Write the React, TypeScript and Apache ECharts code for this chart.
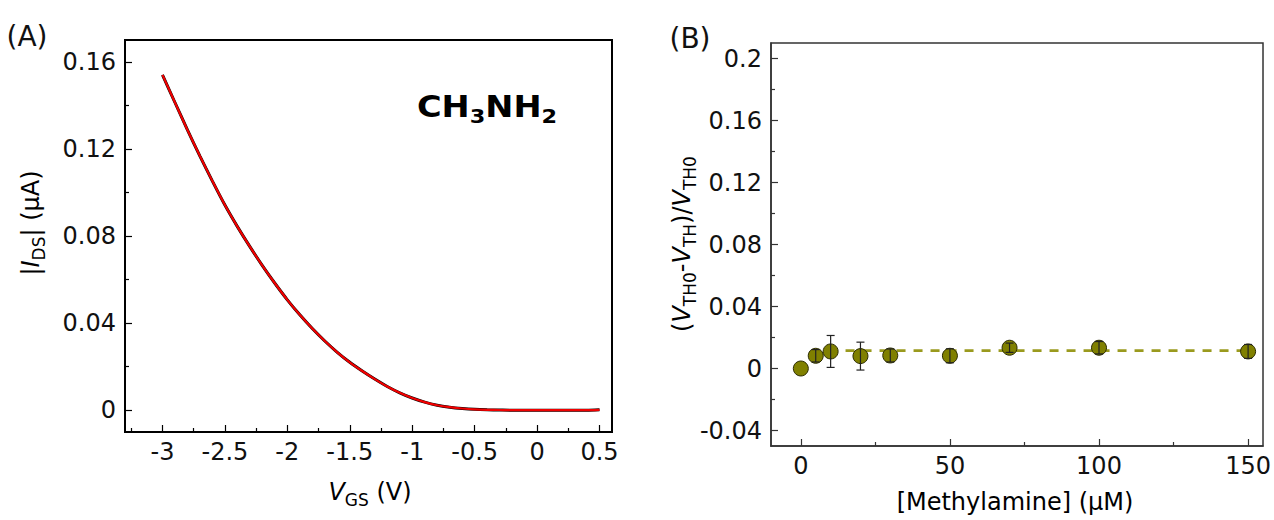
import React, { useEffect, useRef } from 'react';
import * as echarts from 'echarts';

const FONT = 'DejaVu Sans, Liberation Sans, Arial, sans-serif';

// Panel A: transfer curve
const vgs = [-3.0, -2.9, -2.8, -2.7, -2.6, -2.5, -2.4, -2.3, -2.2, -2.1, -2.0, -1.9, -1.8, -1.7, -1.6, -1.5, -1.4, -1.3, -1.2, -1.1, -1.0, -0.9, -0.8, -0.7, -0.6, -0.5, -0.4, -0.3, -0.2, -0.1, 0.0, 0.1, 0.2, 0.3, 0.4, 0.5];
const ids = [0.154, 0.1413, 0.1287, 0.1167, 0.1052, 0.0942, 0.0843, 0.0751, 0.0664, 0.0583, 0.0507, 0.0438, 0.0375, 0.0318, 0.0266, 0.022, 0.018, 0.0143, 0.0109, 0.008, 0.0056, 0.0037, 0.0023, 0.0014, 0.0008, 0.0004, 0.0002, 0.0001, 0, 0, 0, 0, 0, 0, 0, 0.0002];

// Panel B: threshold shift vs concentration
const concentration = [0, 5, 10, 20, 30, 50, 70, 100, 150];
const ratio = [0, 0.0082, 0.011, 0.008, 0.0084, 0.0082, 0.0134, 0.0134, 0.011];
const ratioErr = [0, 0.004, 0.0103, 0.009, 0.0042, 0.0045, 0.003, 0.004, 0.0045];
const fitX = [15, 150];
const fitY = [0.0115, 0.0115];

// ticks
const leftXTicks = [-3, -2.5, -2, -1.5, -1, -0.5, 0, 0.5];
const leftXMinor = [-3.25, -2.75, -2.25, -1.75, -1.25, -0.75, -0.25, 0.25];
const leftYTicks = [0, 0.04, 0.08, 0.12, 0.16];
const leftYMinor = [0.02, 0.06, 0.1, 0.14];
const rightXTicks = [0, 50, 100, 150];
const rightXMinor = [25, 75, 125];
const rightYTicks = [-0.04, 0, 0.04, 0.08, 0.12, 0.16, 0.2];
const rightYMinor = [-0.02, 0.02, 0.06, 0.1, 0.14, 0.18];

const rich = {
  n: { fontSize: 24, fontFamily: FONT, color: '#111', lineHeight: 32 },
  i: { fontSize: 24, fontFamily: FONT, fontStyle: 'italic', color: '#111', lineHeight: 32 },
  s: { fontSize: 17, fontFamily: FONT, color: '#111', verticalAlign: 'bottom' },
};
const richBold = {
  b: { fontSize: 30, fontFamily: FONT, fontWeight: 'bold', color: '#000', lineHeight: 38 },
  bs: { fontSize: 20, fontFamily: FONT, fontWeight: 'bold', color: '#000', verticalAlign: 'bottom' },
};

function mainX(grid: number, min: number, max: number, ticks: number[], color: string, lw: number) {
  return {
    type: 'value', gridIndex: grid, min, max, position: 'bottom',
    axisLine: { show: true, onZero: false, lineStyle: { color, width: lw } },
    axisTick: { show: true, inside: true, length: 7, customValues: ticks, lineStyle: { color, width: 1.2 } },
    axisLabel: { show: true, customValues: ticks, fontSize: 24, fontFamily: FONT, color: '#111', margin: 8 },
    splitLine: { show: false },
  };
}
function minorX(grid: number, min: number, max: number, ticks: number[], color: string) {
  return {
    type: 'value', gridIndex: grid, min, max, position: 'bottom',
    axisLine: { show: false, onZero: false },
    axisTick: { show: true, inside: true, length: 4, customValues: ticks, lineStyle: { color, width: 1.2 } },
    axisLabel: { show: false },
    splitLine: { show: false },
  };
}
function mainY(grid: number, min: number, max: number, ticks: number[], color: string, lw: number) {
  return {
    type: 'value', gridIndex: grid, min, max, position: 'left',
    axisLine: { show: true, onZero: false, lineStyle: { color, width: lw } },
    axisTick: { show: true, inside: true, length: 7, customValues: ticks, lineStyle: { color, width: 1.2 } },
    axisLabel: { show: true, customValues: ticks, fontSize: 24, fontFamily: FONT, color: '#111', margin: 9 },
    splitLine: { show: false },
  };
}
function minorY(grid: number, min: number, max: number, ticks: number[], color: string) {
  return {
    type: 'value', gridIndex: grid, min, max, position: 'left',
    axisLine: { show: false, onZero: false },
    axisTick: { show: true, inside: true, length: 4, customValues: ticks, lineStyle: { color, width: 1.2 } },
    axisLabel: { show: false },
    splitLine: { show: false },
  };
}

export default function App() {
  const ref = useRef<HTMLDivElement>(null);
  useEffect(() => {
    if (!ref.current) return;
    const chart = echarts.init(ref.current, undefined, { renderer: 'svg' });
    const curve = vgs.map((v, k) => [v, ids[k]]);
    const pts = concentration.map((c, k) => [c, ratio[k]]);
    const errs = concentration.map((c, k) => [c, ratio[k] - ratioErr[k], ratio[k] + ratioErr[k]]);
    const fit = fitX.map((x, k) => [x, fitY[k]]);

    chart.setOption({
      animation: false,
      backgroundColor: '#fff',
      grid: [
        { left: 125, top: 40, width: 487, height: 392, show: true, borderColor: '#000', borderWidth: 2, backgroundColor: 'transparent' },
        { left: 771, top: 43, width: 493, height: 403, show: true, borderColor: '#333', borderWidth: 1.5, backgroundColor: 'transparent' },
      ],
      xAxis: [
        mainX(0, -3.3, 0.6, leftXTicks, '#000', 2),
        minorX(0, -3.3, 0.6, leftXMinor, '#000'),
        mainX(1, -10, 155, rightXTicks, '#333', 1.5),
        minorX(1, -10, 155, rightXMinor, '#333'),
      ],
      yAxis: [
        mainY(0, -0.01, 0.17, leftYTicks, '#000', 2),
        minorY(0, -0.01, 0.17, leftYMinor, '#000'),
        mainY(1, -0.05, 0.21, rightYTicks, '#333', 1.5),
        minorY(1, -0.05, 0.21, rightYMinor, '#333'),
      ],
      series: [
        {
          type: 'line', xAxisIndex: 0, yAxisIndex: 0, data: curve, showSymbol: false, smooth: 0.2,
          lineStyle: { color: '#000', width: 3 }, z: 2,
        },
        {
          type: 'line', xAxisIndex: 0, yAxisIndex: 0, data: curve, showSymbol: false, smooth: 0.2,
          lineStyle: { color: '#f00000', width: 2.2 }, z: 3,
        },
        {
          type: 'line', xAxisIndex: 2, yAxisIndex: 2, data: fit, showSymbol: false,
          lineStyle: { color: '#9a9a1e', width: 2.7, type: [9, 8] }, z: 2,
        },
        {
          type: 'scatter', xAxisIndex: 2, yAxisIndex: 2, data: pts, symbol: 'circle', symbolSize: 15,
          itemStyle: { color: '#808000', borderColor: '#2b2b00', borderWidth: 1, opacity: 1 }, z: 3,
        },
        {
          type: 'custom', xAxisIndex: 2, yAxisIndex: 2, data: errs, z: 4,
          renderItem: (params: any, api: any) => {
            const x = api.value(0);
            const lo = api.coord([x, api.value(1)]);
            const hi = api.coord([x, api.value(2)]);
            if (Math.abs(hi[1] - lo[1]) < 0.5) return { type: 'group', children: [] };
            const hw = 4;
            const st = { stroke: '#222', lineWidth: 1.2 };
            return {
              type: 'group',
              children: [
                { type: 'line', shape: { x1: lo[0], y1: lo[1], x2: hi[0], y2: hi[1] }, style: st },
                { type: 'line', shape: { x1: lo[0] - hw, y1: lo[1], x2: lo[0] + hw, y2: lo[1] }, style: st },
                { type: 'line', shape: { x1: hi[0] - hw, y1: hi[1], x2: hi[0] + hw, y2: hi[1] }, style: st },
              ],
            };
          },
        },
      ],
      graphic: [
        { type: 'text', x: 27, y: 36, style: { text: '(A)', fontSize: 28, fontFamily: FONT, fill: '#111', align: 'center', verticalAlign: 'middle' } },
        { type: 'text', x: 690, y: 38, style: { text: '(B)', fontSize: 28, fontFamily: FONT, fill: '#111', align: 'center', verticalAlign: 'middle' } },
        {
          type: 'text', x: 487, y: 107, scaleX: 1.12,
          style: { text: '{b|CH}{bs|3}{b|NH}{bs|2}', rich: richBold, align: 'center', verticalAlign: 'middle' },
        },
        {
          type: 'text', x: 370, y: 492,
          style: { text: '{i|V}{s|GS}{n| (V)}', rich, align: 'center', verticalAlign: 'middle' },
        },
        {
          type: 'text', x: 1015, y: 502,
          style: { text: '{n|[Methylamine] (μM)}', rich, align: 'center', verticalAlign: 'middle' },
        },
        {
          type: 'text', x: 31, y: 223, rotation: Math.PI / 2,
          style: { text: '{n||}{i|I}{s|DS}{n|| (μA)}', rich, align: 'center', verticalAlign: 'middle' },
        },
        {
          type: 'text', x: 682, y: 244, rotation: Math.PI / 2,
          style: { text: '{n|(}{i|V}{s|TH0}{n|-}{i|V}{s|TH}{n|)/}{i|V}{s|TH0}', rich, align: 'center', verticalAlign: 'middle' },
        },
      ],
    });
    return () => chart.dispose();
  }, []);
  return <div ref={ref} style={{ position: 'fixed', left: 0, top: 0, width: 1274, height: 520, background: '#fff' }} />;
}
